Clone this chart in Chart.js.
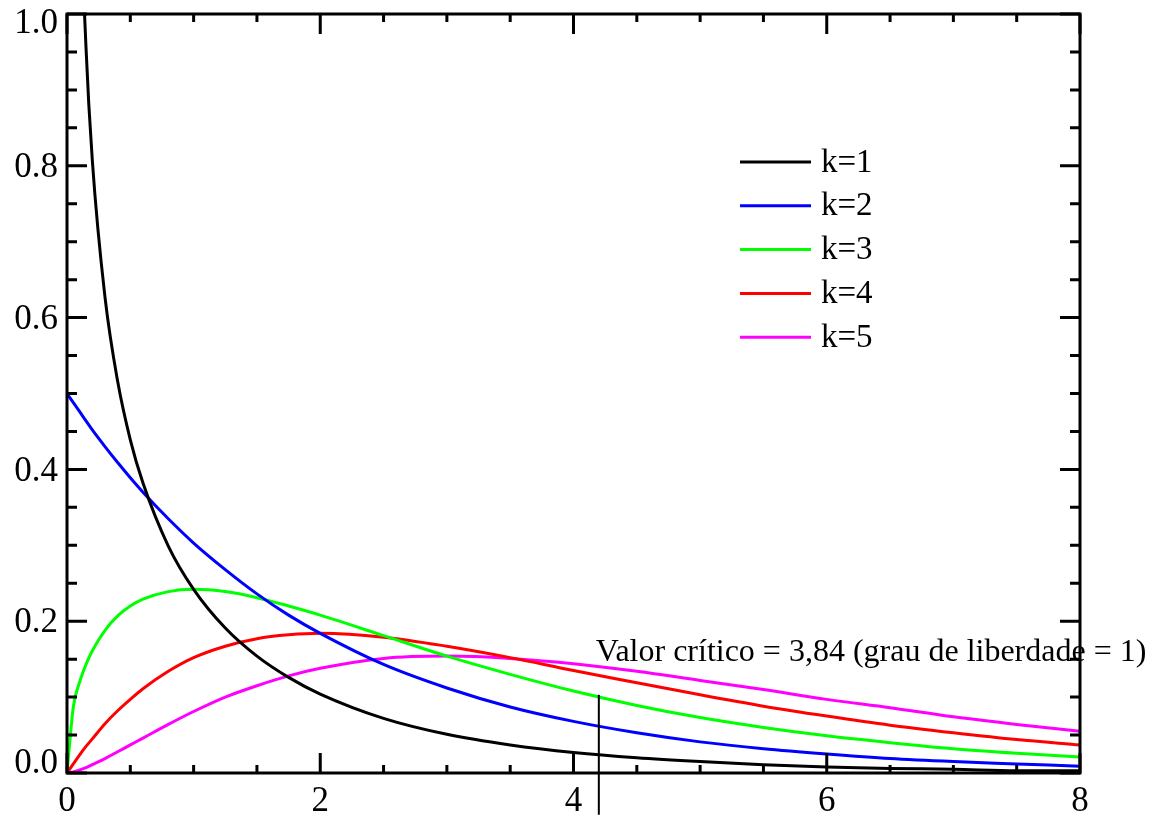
<!DOCTYPE html>
<html>
<head>
<meta charset="utf-8">
<script src="https://cdn.jsdelivr.net/npm/chart.js@4.4.1/dist/chart.umd.min.js"></script>
<style>
  html, body { margin: 0; padding: 0; background: #fff; }
  #wrap { width: 1158px; height: 823px; }
</style>
</head>
<body>
<div id="wrap"><canvas id="chiChart" width="1158" height="823"></canvas></div>
<script>
// x positions read along the horizontal axis
const xValues = [0, 0.05, 0.1, 0.15, 0.2, 0.3, 0.4, 0.5, 0.6, 0.8, 1.0, 1.25, 1.5, 1.75, 2.0,
                 2.5, 3.0, 3.5, 4.0, 4.5, 5.0, 5.5, 6.0, 6.5, 7.0, 7.5, 8.0];

// curve heights, one list per k
const k1 = [null, 1.74, 1.20, 0.956, 0.807, 0.627, 0.516, 0.439, 0.382, 0.299, 0.242, 0.191, 0.154, 0.126, 0.104,
            0.072, 0.051, 0.037, 0.027, 0.020, 0.015, 0.011, 0.008, 0.006, 0.005, 0.003, 0.003];
const k2 = [0.5, 0.488, 0.476, 0.464, 0.452, 0.430, 0.409, 0.389, 0.370, 0.335, 0.303, 0.268, 0.236, 0.208, 0.184,
            0.143, 0.112, 0.087, 0.068, 0.053, 0.041, 0.032, 0.025, 0.019, 0.015, 0.012, 0.009];
const k3 = [0, 0.087, 0.120, 0.143, 0.161, 0.188, 0.207, 0.220, 0.229, 0.239, 0.242, 0.239, 0.231, 0.220, 0.208,
            0.181, 0.154, 0.130, 0.108, 0.089, 0.073, 0.060, 0.049, 0.040, 0.032, 0.026, 0.021];
const k4 = [0, 0.012, 0.024, 0.035, 0.045, 0.065, 0.082, 0.097, 0.111, 0.134, 0.152, 0.167, 0.177, 0.182, 0.184,
            0.179, 0.167, 0.152, 0.135, 0.119, 0.103, 0.088, 0.075, 0.063, 0.053, 0.044, 0.037];
const k5 = [0, 0.0015, 0.004, 0.007, 0.011, 0.019, 0.028, 0.037, 0.046, 0.064, 0.081, 0.100, 0.115, 0.128, 0.138,
            0.151, 0.154, 0.151, 0.144, 0.134, 0.122, 0.110, 0.097, 0.086, 0.074, 0.064, 0.055];

const seriesLabels = ['k=1', 'k=2', 'k=3', 'k=4', 'k=5'];
const seriesColors = ['#000000', '#0000ff', '#00ff00', '#ff0000', '#ff00ff'];
const seriesData = [k1, k2, k3, k4, k5];

// y tick labels
const yTicks = [0, 0.2, 0.4, 0.6, 0.8, 1.0];
const yTickLabels = ['0.0', '0.2', '0.4', '0.6', '0.8', '1.0'];

// annotation
const criticalText = 'Valor crítico = 3,84 (grau de liberdade = 1)';
const criticalX = 4.2;
const criticalTop = 0.103;
const criticalBottom = -0.055;
const criticalTextY = 0.147;

const serif = '"Liberation Serif", "Times New Roman", serif';

const datasets = seriesData.map((vals, i) => ({
    label: seriesLabels[i],
    data: xValues.map((x, j) => ({ x: x, y: vals[j] })),
    borderColor: seriesColors[i],
    borderWidth: 3,
    pointRadius: 0,
    fill: false,
    cubicInterpolationMode: 'monotone',
    spanGaps: false
}));

// frame, inward ticks, y labels, legend and the critical value marker
const decorPlugin = {
    id: 'decor',
    afterDatasetsDraw(chart) {
        const ctx = chart.ctx;
        const a = chart.chartArea;
        const xs = chart.scales.x, ys = chart.scales.y;
        ctx.save();
        ctx.strokeStyle = '#000';
        ctx.lineCap = 'butt';

        // ticks on all four sides
        ctx.lineWidth = 3;
        for (let v = 0; v <= 8.001; v += 0.5) {
            const px = xs.getPixelForValue(v);
            const major = Math.abs(v / 2 - Math.round(v / 2)) < 1e-6;
            const len = major ? 20 : 8;
            ctx.beginPath();
            ctx.moveTo(px, a.bottom); ctx.lineTo(px, a.bottom - len);
            ctx.moveTo(px, a.top); ctx.lineTo(px, a.top + len);
            ctx.stroke();
        }
        for (let v = 0; v <= 1.0001; v += 0.05) {
            const py = ys.getPixelForValue(v);
            const major = Math.abs(v / 0.2 - Math.round(v / 0.2)) < 1e-6;
            const len = major ? 20 : 10;
            ctx.beginPath();
            ctx.moveTo(a.left, py); ctx.lineTo(a.left + len, py);
            ctx.moveTo(a.right, py); ctx.lineTo(a.right - len, py);
            ctx.stroke();
        }
        ctx.strokeRect(a.left, a.top, a.right - a.left, a.bottom - a.top);

        // y tick labels, kept inside the axis extent
        ctx.fillStyle = '#000';
        ctx.font = '35px ' + serif;
        ctx.textAlign = 'right';
        ctx.textBaseline = 'middle';
        yTicks.forEach((v, i) => {
            let py = ys.getPixelForValue(v) + 2;
            py = Math.min(Math.max(py, a.top + 10), a.bottom - 9);
            ctx.fillText(yTickLabels[i], a.left - 9, py);
        });

        // critical value line and text
        const cx = xs.getPixelForValue(criticalX);
        ctx.lineWidth = 2;
        ctx.beginPath();
        ctx.moveTo(cx, ys.getPixelForValue(criticalTop));
        ctx.lineTo(cx, ys.getPixelForValue(criticalBottom));
        ctx.stroke();
        ctx.font = '32px ' + serif;
        ctx.textAlign = 'left';
        ctx.textBaseline = 'alphabetic';
        ctx.fillText(criticalText, cx - 3, ys.getPixelForValue(criticalTextY));

        // legend
        const lx0 = 740, lx1 = 811, ly0 = 162, step = 43.8;
        ctx.font = '33px ' + serif;
        ctx.textBaseline = 'middle';
        chart.data.datasets.forEach((ds, i) => {
            const y = ly0 + i * step;
            ctx.strokeStyle = ds.borderColor;
            ctx.lineWidth = 3;
            ctx.beginPath();
            ctx.moveTo(lx0, y); ctx.lineTo(lx1, y);
            ctx.stroke();
            ctx.fillStyle = '#000';
            ctx.fillText(ds.label, 821, y + 1);
        });
        ctx.restore();
    }
};

new Chart(document.getElementById('chiChart').getContext('2d'), {
    type: 'line',
    data: { datasets: datasets },
    options: {
        responsive: false,
        animation: false,
        layout: { padding: { top: 14, right: 78, left: 0, bottom: 0 } },
        plugins: { legend: { display: false }, tooltip: { enabled: false } },
        scales: {
            x: {
                type: 'linear',
                min: 0, max: 8,
                grid: { display: false, drawTicks: false },
                border: { display: false },
                ticks: {
                    stepSize: 2,
                    color: '#000',
                    padding: 8,
                    font: { family: serif, size: 35 }
                },
                afterFit(scale) {
                    scale.height = 50;
                    scale.paddingLeft = 0;
                    scale.paddingRight = 0;
                }
            },
            y: {
                min: 0, max: 1,
                grid: { display: false, drawTicks: false },
                border: { display: false },
                ticks: { display: false, stepSize: 0.2 },
                afterFit(scale) {
                    scale.width = 67;
                    scale.paddingTop = 0;
                    scale.paddingBottom = 0;
                }
            }
        }
    },
    plugins: [decorPlugin]
});
</script>
</body>
</html>
